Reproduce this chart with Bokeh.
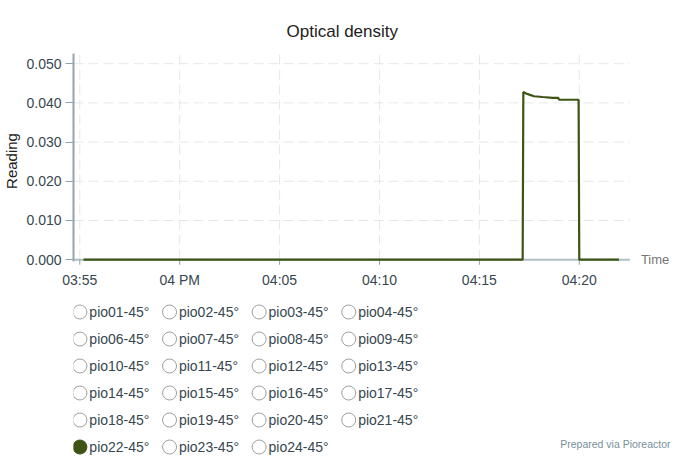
import pandas as pd
from bokeh.plotting import figure
from bokeh.models import (Range1d, FixedTicker, NumeralTickFormatter, Label,
                          ColumnDataSource, CustomJSTickFormatter)
from bokeh.layouts import column
from bokeh.embed import file_html
from bokeh.resources import INLINE
from bokeh.core.properties import value

# ---------------- data ----------------
DAY = "2024-01-01 "
times = ["15:55:11", "16:17:10", "16:17:12", "16:17:20", "16:17:30", "16:17:44",
         "16:18:10", "16:18:40", "16:18:57", "16:18:59", "16:19:58", "16:20:00", "16:21:59"]
readings = [0.0, 0.0, 0.0428, 0.0424, 0.0421, 0.0417,
            0.0415, 0.0413, 0.0413, 0.0408, 0.0408, 0.0, 0.0]

x_tick_times = ["15:55", "16:00", "16:05", "16:10", "16:15", "16:20"]
x_tick_labels = ["03:55", "04 PM", "04:05", "04:10", "04:15", "04:20"]
y_ticks = [0.0, 0.01, 0.02, 0.03, 0.04, 0.05]
x_start, x_axis_end, x_view_end = "15:54:41", "16:22:32", "16:24:37"
y_start, y_axis_start, y_end = -0.00225, -0.0005, 0.0526
x_tick_len = 0.0013  # tick mark length in reading units (about 5 px)

legend_labels = ["pio01-45°", "pio02-45°", "pio03-45°", "pio04-45°",
                 "pio06-45°", "pio07-45°", "pio08-45°", "pio09-45°",
                 "pio10-45°", "pio11-45°", "pio12-45°", "pio13-45°",
                 "pio14-45°", "pio15-45°", "pio16-45°", "pio17-45°",
                 "pio18-45°", "pio19-45°", "pio20-45°", "pio21-45°",
                 "pio22-45°", "pio23-45°", "pio24-45°"]
selected = ["pio22-45°"]

LINE = "#3d5416"
AXIS = "#90a4ae"
XAXIS = "#b0bec5"
TICKLAB = "#37474f"
GRID = "#e4e7e9"
FONT = "Liberation Sans"


def ms(t):
    return float(pd.Timestamp(DAY + t).value // 10**6)


W = 674
H_MAIN = 298
H_LEG = 159
BL, BR = 67, 3

p = figure(width=W, height=H_MAIN, x_axis_type="datetime",
           output_backend="svg", toolbar_location=None,
           x_range=Range1d(ms(x_start), ms(x_view_end)),
           y_range=Range1d(y_start, y_end),
           min_border_left=BL, min_border_right=BR,
           min_border_top=53, min_border_bottom=30)
p.outline_line_color = None
p.xgrid.visible = False
p.ygrid.visible = False

p.title.text = "Optical density"
p.title.align = "left"
p.title.offset = 213
p.title.text_font = FONT
p.title.text_font_size = "17px"
p.title.text_font_style = "normal"
p.title.text_color = "#212121"
p.title.standoff = 25

x_tick_ms = [ms(t) for t in x_tick_times]
xs0, xs1 = ms(x_start), ms(x_axis_end)

# dashed grid, limited to the axis extents
p.segment(x0=x_tick_ms, y0=[0.0] * len(x_tick_ms), x1=x_tick_ms, y1=[y_end] * len(x_tick_ms),
          line_color=GRID, line_width=1, line_dash="10 5", level="underlay")
p.segment(x0=[xs0] * len(y_ticks), y0=y_ticks, x1=[xs1] * len(y_ticks), y1=y_ticks,
          line_color=GRID, line_width=1, line_dash="10 5", level="underlay")
# x axis baseline at reading 0 and its tick marks
p.segment(x0=[xs0], y0=[0.0], x1=[xs1], y1=[0.0], line_color=XAXIS, line_width=2, level="underlay")
p.segment(x0=x_tick_ms, y0=[0.0] * len(x_tick_ms), x1=x_tick_ms,
          y1=[-x_tick_len] * len(x_tick_ms), line_color=AXIS, line_width=1, level="underlay")

src = ColumnDataSource(dict(t=[ms(t) for t in times], r=readings))
p.line("t", "r", source=src, line_color=LINE, line_width=2.2, level="overlay")

# axes
for ax in (p.xaxis[0], p.yaxis[0]):
    ax.axis_line_color = AXIS
    ax.axis_line_width = 2
    ax.major_tick_line_color = AXIS
    ax.major_tick_in = 0
    ax.minor_tick_line_color = None
    ax.major_label_text_font = FONT
    ax.major_label_text_font_size = "14px"
    ax.major_label_text_color = TICKLAB

p.xaxis.ticker = FixedTicker(ticks=x_tick_ms)
p.xaxis.formatter = CustomJSTickFormatter(
    args=dict(tv=x_tick_ms, tl=x_tick_labels),
    code="""
    for (let k = 0; k < tv.length; k++) {
        if (Math.abs(tv[k] - tick) < 1000) { return tl[k]; }
    }
    return '';
    """)
p.xaxis.axis_line_color = None
p.xaxis.major_tick_line_color = None
p.xaxis.major_tick_out = 0
p.xaxis.major_label_standoff = 3

p.yaxis.bounds = (y_axis_start, y_end)
p.yaxis.ticker = FixedTicker(ticks=y_ticks)
p.yaxis.formatter = NumeralTickFormatter(format="0.000")
p.yaxis.major_tick_out = 8
p.yaxis.major_label_standoff = 4
p.yaxis.axis_label = "Reading"
p.yaxis.axis_label_text_font = FONT
p.yaxis.axis_label_text_font_size = "15px"
p.yaxis.axis_label_text_font_style = "normal"
p.yaxis.axis_label_text_color = "#212121"
p.yaxis.axis_label_standoff = 3

p.add_layout(Label(x=xs1, y=0, x_offset=11, text="Time",
                   text_font=FONT, text_font_size="13px", text_color="#757575",
                   text_baseline="middle", text_align="left"))

# ---------------- legend (separate panel, frame aligned with the chart) ----------------
leg = figure(width=W, height=H_LEG, output_backend="svg", toolbar_location=None,
             x_range=Range1d(BL, W - BR), y_range=Range1d(H_LEG, 0),
             x_axis_type=None, y_axis_type=None,
             min_border_left=BL, min_border_right=BR, min_border_top=0, min_border_bottom=0)
leg.outline_line_color = None
leg.grid.visible = False

x0, dx, y0, dy = 73.5, 90.5, 13.5, 27.0
cx = [x0 + dx * (i % 4) for i in range(len(legend_labels))]
cy = [y0 + dy * (i // 4) for i in range(len(legend_labels))]
fills = [LINE if l in selected else "white" for l in legend_labels]
lines = [LINE if l in selected else "#9e9e9e" for l in legend_labels]
lsrc = ColumnDataSource(dict(x=cx, y=cy, tx=[c + 9.5 for c in cx], lab=legend_labels,
                             f=fills, lc=lines))
leg.scatter("x", "y", source=lsrc, size=14, fill_color="f", line_color="lc", line_width=1)
leg.text("tx", "y", text="lab", source=lsrc, text_font=value(FONT), text_font_size="14px",
         text_color=TICKLAB, text_baseline="middle", text_align="left")

leg.add_layout(Label(x=670, y=145, text="Prepared via Pioreactor", text_font=FONT,
                     text_font_size="10.5px", text_color="#78909c",
                     text_baseline="middle", text_align="right"))

layout = column(p, leg)
open("out.html", "w").write(file_html(layout, INLINE))
